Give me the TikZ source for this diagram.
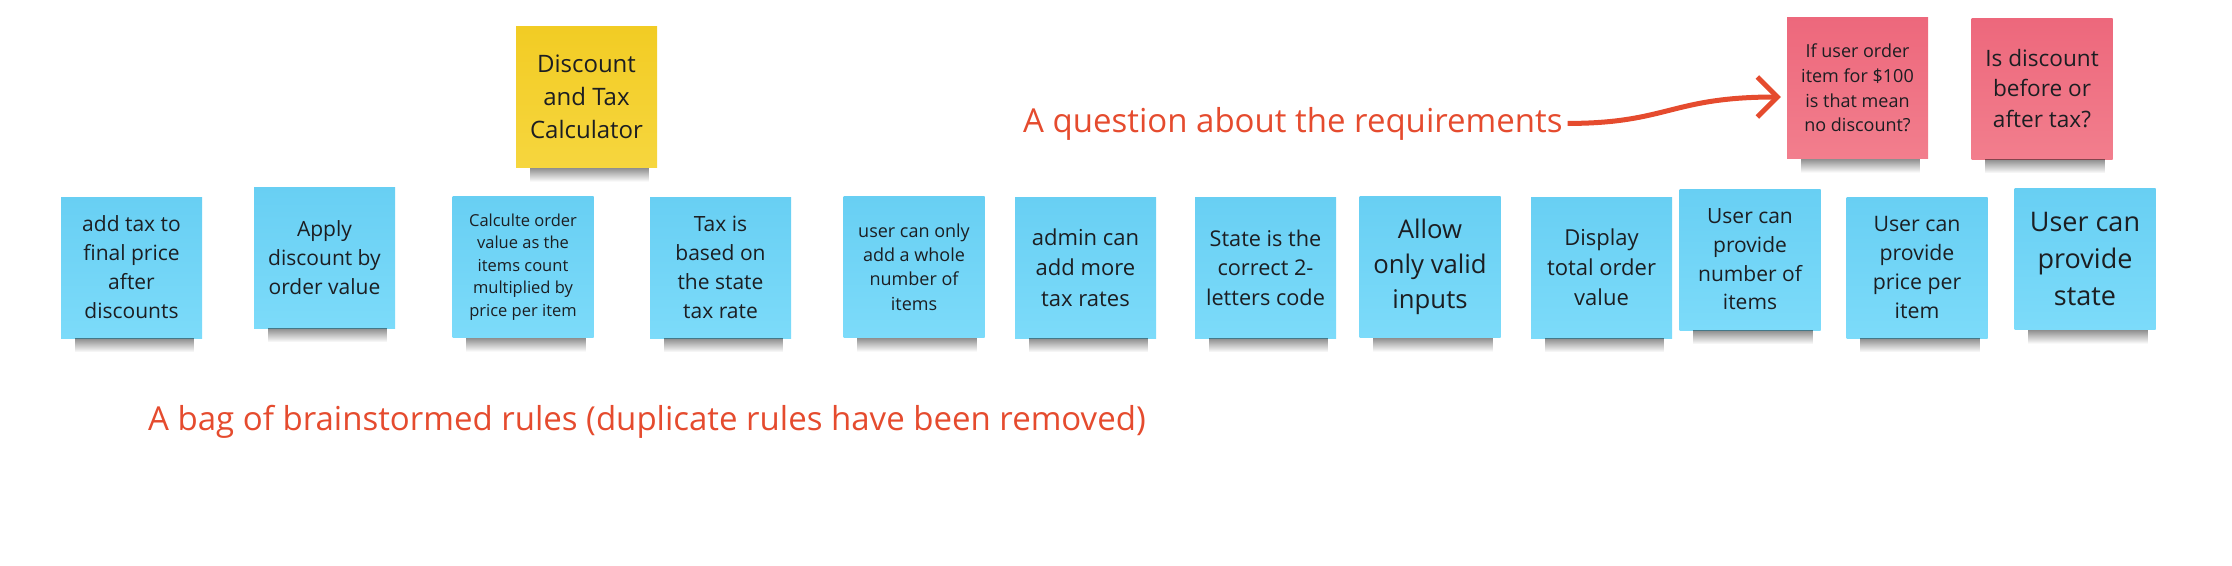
\documentclass[tikz,border=0pt]{standalone}
\usepackage{fontspec}
\setmainfont{Open Sans}
\usetikzlibrary{arrows.meta, fadings, positioning}

\definecolor{ruletop}{RGB}{104,207,243}
\definecolor{rulebot}{RGB}{124,219,250}
\definecolor{headtop}{RGB}{242,204,36}
\definecolor{headbot}{RGB}{246,214,62}
\definecolor{asktop}{RGB}{237,104,124}
\definecolor{askbot}{RGB}{242,126,141}
\definecolor{ink}{RGB}{28,30,34}
\definecolor{remark}{RGB}{229,75,46}

\newcommand{\notefont}[2]{\fontsize{#1}{#2}\selectfont}

\begin{document}
\begin{tikzpicture}[x=1pt, y=-1pt,
  sticky/.style={rectangle, minimum width=141pt, minimum height=141pt, inner sep=2pt, align=center, text=ink},
  rule/.style={sticky, top color=ruletop, bottom color=rulebot},
  head/.style={sticky, top color=headtop, bottom color=headbot},
  ask/.style={sticky, top color=asktop, bottom color=askbot},
  note/.style={text=remark, font=\notefont{33}{40}, inner sep=0pt, anchor=base west},
  shade/.style={black, opacity=0.45, path fading=south},
  link/.style={-{Straight Barb[length=20pt,width=40pt]}, line width=5pt, remark}
]
  \useasboundingbox (0,0) rectangle (2232,565);

  % the question stickies and the title
  \node[head,font={\notefont{24}{32.7}}](title) at (586.5,97) {Discount\\and Tax\\Calculator};
  \node[ask,font={\notefont{18}{24.7}}](q1)     at (1857.5,88){If user order\\item for \$100\\is that mean\\no discount?};
  \node[ask,font={\notefont{22.6}{30.8}}](q2)   at (2042,88.5){Is discount\\before or\\after tax?};

  % the rules
  \node[rule,font={\notefont{21}{29}}](addtax)       at (131.5,267.5){add tax to\\final price\\after\\discounts};
  \node[rule,font={\notefont{21}{29}}](applydisc)    at (324.5,257.5){Apply\\discount by\\order value};
  \node[rule,font={\notefont{16.5}{22.5}}](ordervalue) at (523,267){Calculte order\\value as the\\items count\\multiplied by\\price per item};
  \node[rule,font={\notefont{21}{29}}](taxrate)      at (720.5,267.5){Tax is\\based on\\the state\\tax rate};
  \node[rule,font={\notefont{18}{24.4}}](wholenum)   at (914,267){user can only\\add a whole\\number of\\items};
  \node[rule,font={\notefont{22}{30.3}}](admintax)   at (1085.5,267.5){admin can\\add more\\tax rates};
  \node[rule,font={\notefont{21.7}{29.5}}](statecode) at (1265.5,267.5){State is the\\correct 2-\\letters code};
  \node[rule,font={\notefont{25.7}{35}}](validin)    at (1430,267){Allow\\only valid\\inputs};
  \node[rule,font={\notefont{22}{30}}](total)        at (1601.5,267.5){Display\\total order\\value};
  \node[rule,font={\notefont{21}{28.7}}](numitems)   at (1750,259.5){User can\\provide\\number of\\items};
  \node[rule,font={\notefont{21.3}{29}}](priceitem)  at (1917,267.5){User can\\provide\\price per\\item};
  \node[rule,font={\notefont{27}{36.7}}](userstate)  at (2085,259){User can\\provide\\state};

  \foreach \s in {title,q1,q2,addtax,applydisc,ordervalue,taxrate,wholenum,admintax,statecode,validin,total,numitems,priceitem,userstate}
    \fill[shade] ([xshift=14pt]\s.south west) rectangle ([xshift=-8pt,yshift=-14pt]\s.south east);

  % remarks
  \node[note](qnote)   at (1023,132) {A question about the requirements};
  \node[note](bagnote) at (148,430)  {A bag of brainstormed rules (duplicate rules have been removed)};

  \draw[link]([xshift=5pt]qnote.east) .. controls +(100,0) and +(-110,0) .. ([xshift=-6pt,yshift=-9pt]q1.west);
\end{tikzpicture}
\end{document}
